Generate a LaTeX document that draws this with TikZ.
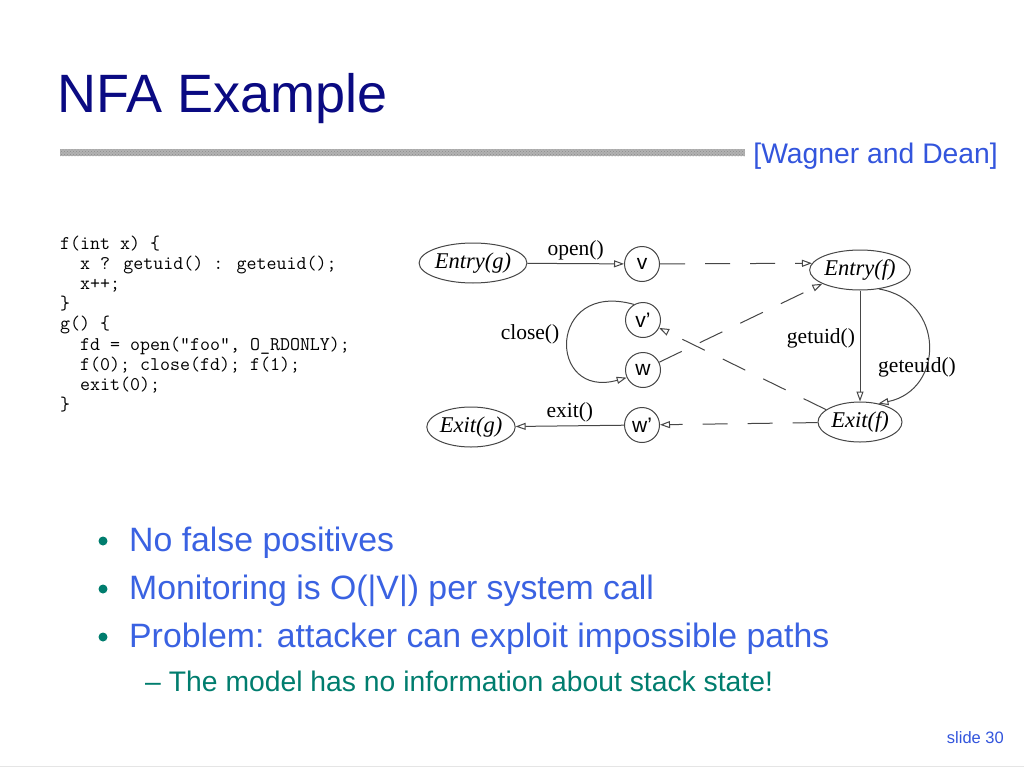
\documentclass[tikz,border=0pt]{standalone}
\usepackage{fontspec}
\setmainfont{Liberation Sans}
\newfontfamily\serifx{Liberation Serif}
\usetikzlibrary{arrows.meta,patterns,shapes.geometric}
\definecolor{titleblue}{RGB}{10,10,130}
\definecolor{bulletblue}{RGB}{58,98,226}
\definecolor{refblue}{RGB}{51,85,221}
\definecolor{subteal}{RGB}{0,125,110}
\definecolor{edgegray}{RGB}{70,70,70}
\begin{document}
\begin{tikzpicture}[x=1pt,y=-1pt,
  ell/.style={ellipse,draw=edgegray,line width=1pt,inner sep=0pt,minimum width=84pt,minimum height=40pt,font=\serifx\itshape\fontsize{22.5}{26}\selectfont},
  st/.style={circle,draw=edgegray,line width=1pt,inner sep=0pt,minimum size=35pt,font=\fontsize{21}{24}\selectfont},
  arr/.style={draw=edgegray,line width=1pt,-{Triangle[open,length=10pt,width=7pt]}},
  dsh/.style={arr,dash pattern=on 25pt off 20pt},
  lbl/.style={font=\serifx\fontsize{21.5}{25}\selectfont,inner sep=0pt},
  codeline/.style={anchor=base west,inner sep=0pt,font=\ttfamily\fontsize{19.4}{20}\selectfont},
  bul/.style={anchor=base west,inner sep=0pt,text=bulletblue,font=\fontsize{33.8}{38}\selectfont}
]
\useasboundingbox (0,0) rectangle (1024,768);
\fill[white] (0,0) rectangle (1024,768);
% title
\node[anchor=base west,inner sep=0pt,text=titleblue,font=\fontsize{54}{60}\selectfont] (title) at (57,112) {NFA Example};
\fill[gray!60] (60,149) rectangle (745,156);
\fill[pattern=crosshatch dots,pattern color=gray!90] (60,149) rectangle (745,156);
\node[anchor=base east,inner sep=0pt,text=refblue,font=\fontsize{28.3}{32}\selectfont] (ref) at (998,163) {[Wagner and Dean]};
% code
\node[codeline] (c1) at (60,249) {f(int x) \{};
\node[codeline] (c2) at (80,269) {x ? getuid() : geteuid();};
\node[codeline] (c3) at (80,289) {x++;};
\node[codeline] (c4) at (60,309) {\}};
\node[codeline] (c5) at (60,329) {g() \{};
\node[codeline] (c6) at (80,350) {fd = open("foo", O\_RDONLY);};
\node[codeline] (c7) at (80,370) {f(0); close(fd); f(1);};
\node[codeline] (c8) at (80,390) {exit(0);};
\node[codeline] (c9) at (60,410) {\}};
% diagram nodes
\node[ell] (Eg) at (473,263) {Entry(g)};
\node[ell] (Xg) at (471,427) {Exit(g)};
\node[st] (v) at (642,264) {v};
\node[st] (vp) at (643,320) {v'};
\node[st] (w) at (643,370) {w};
\node[st] (wp) at (642,425) {w'};
\node[ell] (Ef) at (860,270) {Entry(f)};
\node[ell] (Xf) at (860,422) {Exit(f)};
% edges
\draw[arr] (Eg) -- (v) node[lbl,midway,above=3pt] (lopen) {open()};
\draw[arr] (wp) -- (Xg) node[lbl,midway,above=3pt] (lexit) {exit()};
\draw[arr] (vp.120) .. controls (547,280) and (547,400) .. (w.205);
\node[lbl] (lclose) at (530,334) {close()};
\draw[dsh] (v) -- (Ef.172);
\draw[dsh] (w) -- (Ef.200);
\draw[dsh] (Xf.160) -- (vp);
\draw[dsh] (Xf) -- (wp);
\draw[arr] (Ef) -- (Xf);
\node[lbl] (lgetuid) at (821,338) {getuid()};
\draw[arr] (Ef.-45) .. controls (945,300) and (945,390) .. (Xf.45);
\node[lbl] (lgeteuid) at (917,367) {geteuid()};
% bullets
\fill[subteal] (103,541) circle (4.5);
\node[bul] (b1) at (129,551) {No false positives};
\fill[subteal] (103,589) circle (4.5);
\node[bul] (b2) at (129,599) {Monitoring is O(|V|) per system call};
\fill[subteal] (103,637) circle (4.5);
\node[bul] (b3) at (129,647) {Problem: attacker can exploit impossible paths};
\node[anchor=base west,inner sep=0pt,text=subteal,font=\fontsize{28.3}{32}\selectfont] (s1) at (145,691) {\textendash\hspace{8pt}The model has no information about stack state!};
\node[anchor=base east,inner sep=0pt,text=refblue,font=\fontsize{16.5}{20}\selectfont] (slide) at (1004,743) {slide 30};
\draw[gray!20,line width=1pt] (0,766) -- (1024,766);
\end{tikzpicture}
\end{document}
